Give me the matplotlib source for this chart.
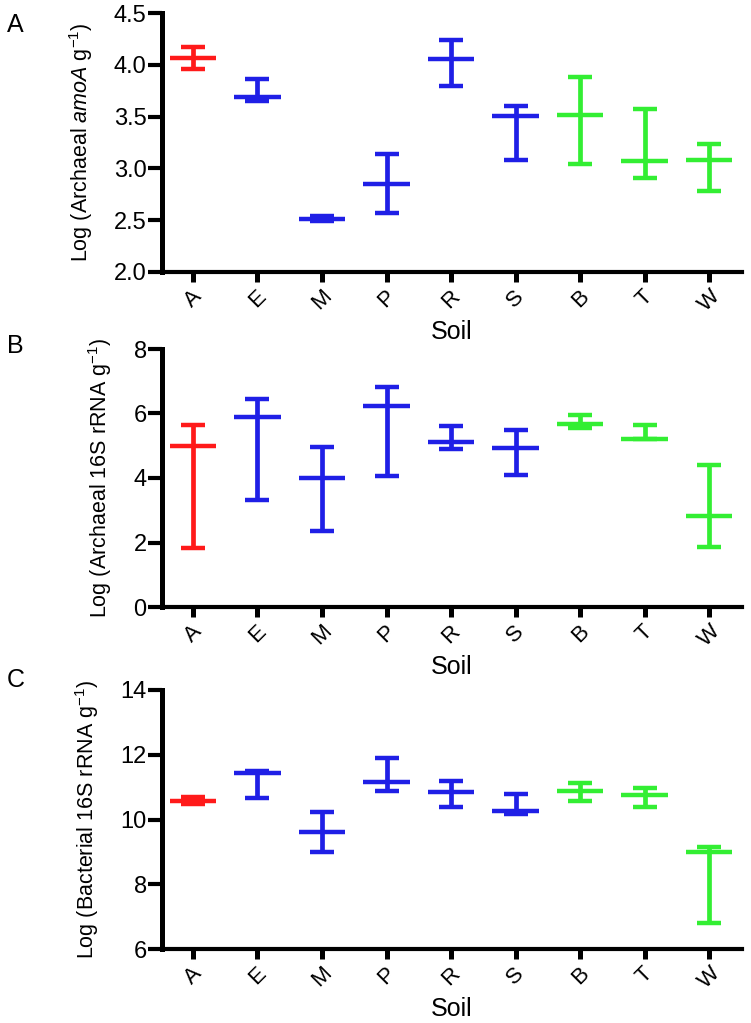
import numpy as np
import matplotlib
matplotlib.use("Agg")
import matplotlib.pyplot as plt

plt.rcParams['font.family'] = ['Liberation Sans', 'DejaVu Sans']
plt.rcParams['mathtext.fontset'] = 'custom'
plt.rcParams['mathtext.rm'] = 'Liberation Sans'
plt.rcParams['mathtext.it'] = 'Liberation Sans:italic'

soils = ['A', 'E', 'M', 'P', 'R', 'S', 'B', 'T', 'W']
colors = ['#ff1a1a'] + ['#1f1fe6'] * 5 + ['#33ee33'] * 3

# panel A: archaeal amoA
amoa_mean = [4.07, 3.69, 2.51, 2.85, 4.06, 3.51, 3.52, 3.07, 3.08]
amoa_hi = [4.17, 3.86, 2.54, 3.14, 4.24, 3.60, 3.88, 3.57, 3.24]
amoa_lo = [3.96, 3.65, 2.49, 2.57, 3.80, 3.08, 3.04, 2.91, 2.78]

# panel B: archaeal 16S rRNA
arch_mean = [4.99, 5.89, 3.99, 6.22, 5.12, 4.93, 5.66, 5.20, 2.83]
arch_hi = [5.64, 6.45, 4.95, 6.82, 5.62, 5.49, 5.95, 5.64, 4.41]
arch_lo = [1.84, 3.33, 2.36, 4.07, 4.90, 4.08, 5.56, 5.20, 1.86]

# panel C: bacterial 16S rRNA
bact_mean = [10.57, 11.43, 9.60, 11.15, 10.85, 10.26, 10.89, 10.75, 8.99]
bact_hi = [10.71, 11.49, 10.23, 11.91, 11.20, 10.78, 11.12, 10.98, 9.16]
bact_lo = [10.48, 10.65, 8.99, 10.88, 10.40, 10.18, 10.56, 10.40, 6.79]

panels = [
    ('A', amoa_mean, amoa_hi, amoa_lo, (2.0, 4.5), [2.0, 2.5, 3.0, 3.5, 4.0, 4.5], '%.1f',
     r'Log (Archaeal $\it{amoA}$ g$^{-1}$)'),
    ('B', arch_mean, arch_hi, arch_lo, (0, 8), [0, 2, 4, 6, 8], '%d',
     r'Log (Archaeal 16S rRNA g$^{-1}$)'),
    ('C', bact_mean, bact_hi, bact_lo, (6, 14), [6, 8, 10, 12, 14], '%d',
     r'Log (Bacterial 16S rRNA g$^{-1}$)'),
]

W, H = 751, 1023
fig = plt.figure(figsize=(W / 100, H / 100), dpi=100)
# axes top/bottom and panel letter centre, in pixels from the top
boxes = [(13, 272, 25), (349, 607, 346), (690, 949, 680)]
x = np.arange(len(soils))

for (letter, mean, hi, lo, ylim, yticks, fmt, ylab), (top, bot, ly) in zip(panels, boxes):
    ax = fig.add_axes([162 / W, 1 - bot / H, (742 - 162) / W, (bot - top) / H])
    mean = np.array(mean)
    hi = np.array(hi)
    lo = np.array(lo)
    for i in range(len(soils)):
        ax.errorbar(x[i], mean[i], yerr=[[mean[i] - lo[i]], [hi[i] - mean[i]]], fmt='none',
                    ecolor=colors[i], elinewidth=3.4, capsize=8.5, capthick=3.2, clip_on=False)
        ax.hlines(mean[i], x[i] - 0.36, x[i] + 0.36, color=colors[i], lw=3.2)
    ax.set_xlim(-0.48, 8.51)
    ax.set_ylim(*ylim)
    ax.set_yticks(yticks)
    ax.set_yticklabels([fmt % v for v in yticks], fontsize=17)
    ax.set_xticks(x)
    ax.set_xticklabels(soils, rotation=45, fontsize=16, ha='center')
    ax.spines['top'].set_visible(False)
    ax.spines['right'].set_visible(False)
    ax.spines['left'].set_linewidth(3.6)
    ax.spines['bottom'].set_linewidth(3)
    ax.tick_params(axis='x', width=3.6, length=7, pad=3)
    ax.tick_params(axis='y', width=3, length=10, pad=1)
    ax.set_xlabel('Soil', fontsize=18, labelpad=3)
    ax.set_ylabel(ylab, fontsize=15.5, labelpad=14)
    fig.text(7 / W, 1 - ly / H, letter, fontsize=18, va='center', ha='left')

fig.savefig('out.png', dpi=100)
